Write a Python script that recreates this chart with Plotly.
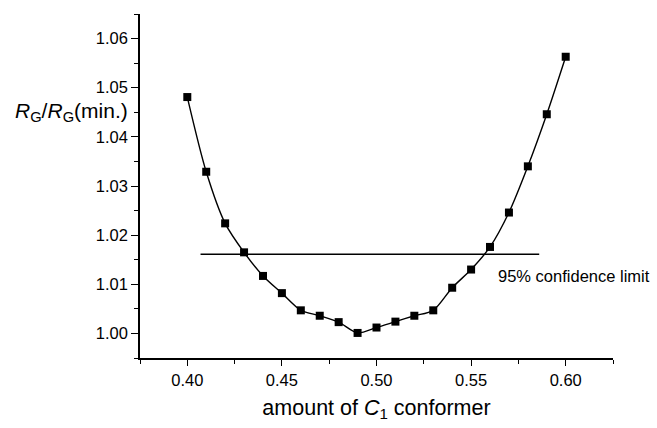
import plotly.graph_objects as go

x_vals = [0.40, 0.41, 0.42, 0.43, 0.44, 0.45, 0.46, 0.47, 0.48, 0.49, 0.50,
          0.51, 0.52, 0.53, 0.54, 0.55, 0.56, 0.57, 0.58, 0.59, 0.60]
y_vals = [1.0481, 1.0329, 1.0224, 1.0165, 1.0117, 1.0082, 1.0047, 1.0036, 1.0023, 1.0001, 1.0012,
          1.0024, 1.0036, 1.0047, 1.0093, 1.0130, 1.0176, 1.0246, 1.0340, 1.0446, 1.0563]
limit_x = [0.407, 0.586]
limit_y = [1.0161, 1.0161]
limit_label = "95% confidence limit"

FONT = "Liberation Sans, Arial, sans-serif"

fig = go.Figure()
fig.add_trace(go.Scatter(x=x_vals, y=y_vals, mode="lines+markers",
                         line=dict(color="black", width=1.4, shape="spline", smoothing=0.8),
                         marker=dict(symbol="square", size=8, color="black"),
                         showlegend=False))
fig.add_trace(go.Scatter(x=limit_x, y=limit_y, mode="lines",
                         line=dict(color="black", width=1.5), showlegend=False))
fig.add_annotation(x=0.5629, y=1.0116, text=limit_label,
                   showarrow=False, xanchor="left", yanchor="middle",
                   font=dict(family=FONT, size=16.5, color="black"))

fig.update_layout(
    width=657, height=428,
    margin=dict(l=140, r=44, t=14, b=64),
    paper_bgcolor="white", plot_bgcolor="white",
    font=dict(family=FONT, color="black"),
    xaxis=dict(range=[0.375, 0.625], tickvals=[0.40, 0.45, 0.50, 0.55, 0.60],
               ticktext=["0.40", "0.45", "0.50", "0.55", "0.60"],
               showline=True, linecolor="black", linewidth=1.5,
               ticks="outside", ticklen=6, tickwidth=1.3, tickcolor="black",
               minor=dict(dtick=0.025, tick0=0.375, ticks="outside", ticklen=4, tickwidth=1.3, tickcolor="black"),
               showgrid=False, zeroline=False,
               tickfont=dict(size=16.5, family=FONT),
               title=dict(text="amount of <i>C</i><sub>1</sub> conformer", font=dict(size=21.5, family=FONT), standoff=12)),
    yaxis=dict(range=[0.995, 1.065], tickvals=[1.00, 1.01, 1.02, 1.03, 1.04, 1.05, 1.06],
               ticktext=["1.00", "1.01", "1.02", "1.03", "1.04", "1.05", "1.06"],
               showline=True, linecolor="black", linewidth=1.5,
               ticks="outside", ticklen=7, tickwidth=1.3, tickcolor="black",
               minor=dict(dtick=0.005, tick0=0.995, ticks="outside", ticklen=4, tickwidth=1.3, tickcolor="black"),
               showgrid=False, zeroline=False,
               tickfont=dict(size=16.5, family=FONT)),
)
fig.add_annotation(xref="paper", yref="paper", x=-0.145, y=0.715,
                   text="<i>R</i><sub>G</sub>/<i>R</i><sub>G</sub>(min.)", showarrow=False,
                   xanchor="center", yanchor="middle", font=dict(size=21, family=FONT, color="black"))

fig.write_html("out.html")
